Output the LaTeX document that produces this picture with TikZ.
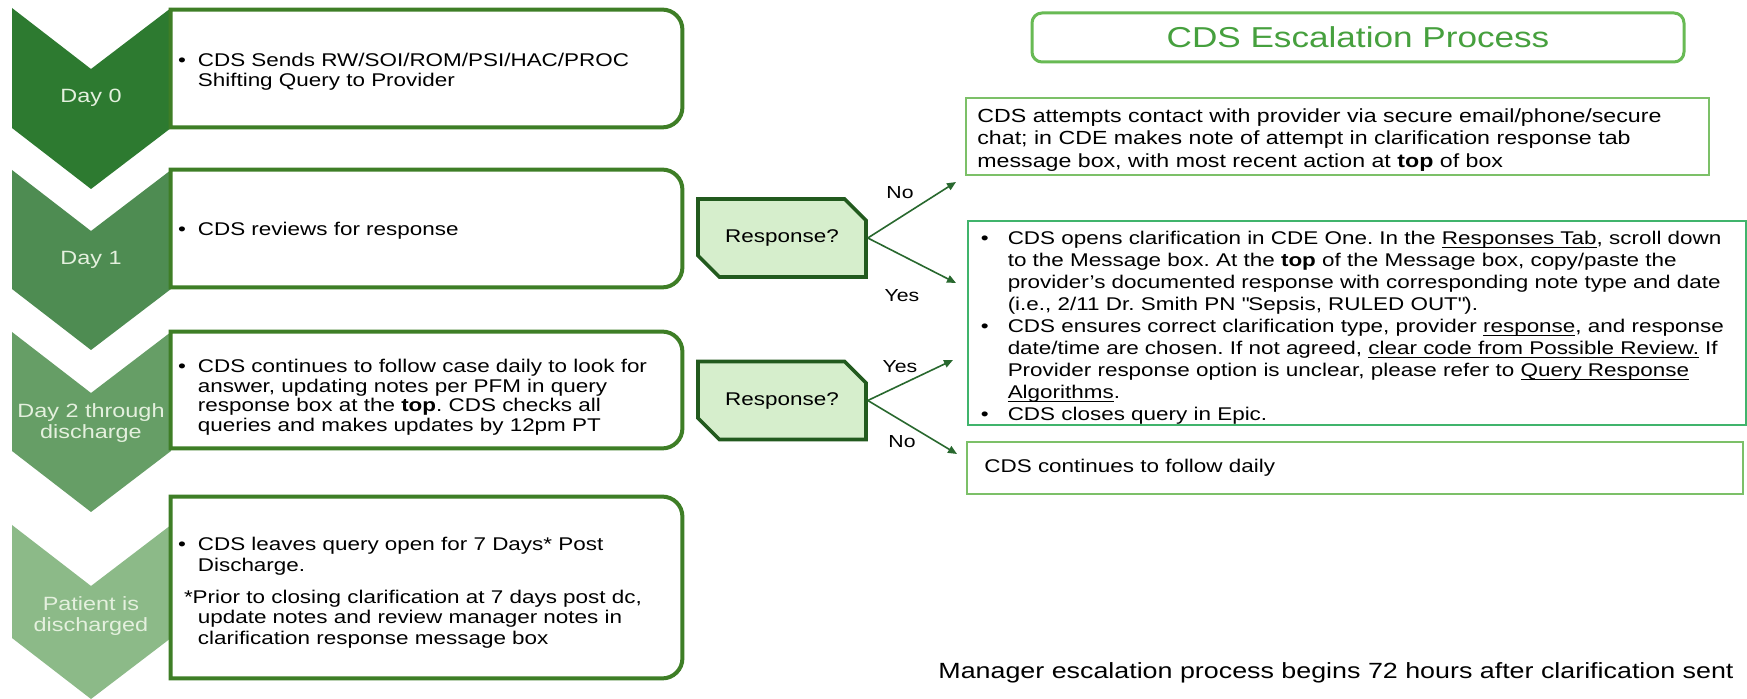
\documentclass[tikz,border=0pt]{standalone}
\usepackage{fontspec}
\setmainfont{Liberation Sans}[FakeStretch=1.22]
\usetikzlibrary{arrows.meta,shapes.misc,calc}
\definecolor{chevA}{RGB}{45,122,48}
\definecolor{chevB}{RGB}{78,140,82}
\definecolor{chevC}{RGB}{102,158,102}
\definecolor{chevD}{RGB}{140,186,136}
\definecolor{chevtext}{RGB}{228,240,222}
\definecolor{boxgreen}{RGB}{62,126,38}
\definecolor{titlegreen}{RGB}{70,160,62}
\definecolor{titleline}{RGB}{104,186,84}
\definecolor{lightline}{RGB}{124,192,104}
\definecolor{mintline}{RGB}{64,180,108}
\definecolor{decfill}{RGB}{214,238,204}
\definecolor{decline}{RGB}{34,90,30}
\definecolor{arrowgreen}{RGB}{40,104,46}
\newcommand{\myul}[1]{\setbox0\hbox{#1}\rlap{\rule[-1.6pt]{\wd0}{0.5pt}}\box0\relax}
\frenchspacing
\begin{document}
\begin{tikzpicture}[x=0.5pt,y=-0.5pt,
  chevlabel/.style={text=chevtext, font=\fontsize{9.6}{10.2}\selectfont, align=center, inner sep=0pt},
  frame/.style={inner sep=0pt, minimum width=255.5pt},
  lline/.style={draw=boxgreen, line width=2pt},
  ltext/.style={anchor=west, inner sep=0pt, font=\fontsize{9.2}{9.75}\selectfont\frenchspacing},
  rtext/.style={anchor=west, inner sep=0pt, font=\fontsize{9.2}{11}\selectfont\frenchspacing},
  rbox/.style={draw=lightline, line width=1pt, inner sep=0pt},
  decision/.style={chamfered rectangle, chamfered rectangle corners={north east,south west},
    chamfered rectangle xsep=8pt, chamfered rectangle ysep=6.5pt, fill=decfill, draw=decline,
    line width=1.8pt, minimum width=84pt, minimum height=39pt, inner sep=0pt,
    font=\fontsize{9.2}{10}\selectfont},
  flow/.style={draw=arrowgreen, line width=0.8pt, -{Triangle[length=4.5pt,width=3.8pt]}},
  anslabel/.style={font=\fontsize{8.7}{9}\selectfont, inner sep=0pt}
]
\useasboundingbox (0,0) rectangle (1747,699);
\fill[white] (0,0) rectangle (1747,699);

% chevrons
\fill[chevA] (12,8) -- (91,69) -- (171,8) -- (171,128) -- (91,189) -- (12,128) -- cycle;
\fill[chevB] (12,170) -- (91,231) -- (171,170) -- (171,289) -- (91,350) -- (12,289) -- cycle;
\fill[chevC] (12,332) -- (91,393) -- (171,332) -- (171,451) -- (91,512) -- (12,451) -- cycle;
\fill[chevD] (12,525) -- (91,586) -- (171,525) -- (171,638) -- (91,699) -- (12,638) -- cycle;
\node[chevlabel] (l0) at (91,98) {Day 0};
\node[chevlabel] (l1) at (91,260) {Day 1};
\node[chevlabel] (l2) at (91,423) {Day 2 through\\discharge};
\node[chevlabel] (l3) at (91,616) {Patient is\\discharged};

% left boxes
\node[frame, minimum height=58.5pt] (b0) at (426.5,68.5) {};
\node[frame, minimum height=58.5pt] (b1) at (426.5,228.5) {};
\node[frame, minimum height=58pt] (b2) at (426.5,390) {};
\node[frame, minimum height=90.5pt] (b3) at (426.5,587.5) {};
\foreach \b in {b0,b1,b2,b3}{
  \draw[lline] (\b.north west) -- ([xshift=-10pt]\b.north east) arc[start angle=90,end angle=0,radius=10pt]
    -- ([yshift=10pt]\b.south east) arc[start angle=0,end angle=-90,radius=10pt] -- (\b.south west) -- cycle;
}
\node[ltext] (t0) at ([xshift=3.5pt,yshift=-2pt]b0.west) {\begin{tabular}{@{}l@{\hspace{6pt}}l@{}}\textbullet & CDS Sends RW/SOI/ROM/PSI/HAC/PROC\\ & Shifting Query to Provider\end{tabular}};
\node[ltext] (t1) at ([xshift=3.5pt,yshift=-1.5pt]b1.west) {\begin{tabular}{@{}l@{\hspace{6pt}}l@{}}\textbullet & CDS reviews for response\end{tabular}};
\node[ltext] (t2) at ([xshift=3.5pt,yshift=-4pt]b2.west) {\begin{tabular}{@{}l@{\hspace{6pt}}l@{}}\textbullet & CDS continues to follow case daily to look for\\ & answer, updating notes per PFM in query\\ & response box at the \textbf{top}. CDS checks all\\ & queries and makes updates by 12pm PT\end{tabular}};
\node[ltext, font=\fontsize{9.2}{10.2}\selectfont\frenchspacing] (t3) at ([xshift=3.5pt,yshift=-3pt]b3.west) {\begin{tabular}{@{}l@{\hspace{6pt}}l@{}}\textbullet & CDS leaves query open for 7 Days* Post\\ & Discharge.\\[6pt]
\multicolumn{2}{@{}l@{}}{\hspace{3pt}*Prior to closing clarification at 7 days post dc,}\\ & update notes and review manager notes in\\ & clarification response message box\end{tabular}};

% right side
\node[draw=titleline, line width=1.5pt, rounded corners=5pt, minimum width=326pt, minimum height=24.5pt, inner sep=0pt,
  text=titlegreen, font=\fontsize{14.4}{15}\selectfont] (title) at (1358,37.5) {CDS Escalation Process};

\node[rbox, minimum width=371.5pt, minimum height=38.5pt] (r1) at (1337.5,136.5) {};
\node[rtext, font=\fontsize{9.5}{11.2}\selectfont\frenchspacing] (rt1) at ([xshift=6pt,yshift=-2pt]r1.west) {\begin{tabular}{@{}l@{}}CDS attempts contact with provider via secure email/phone/secure\\chat; in CDE makes note of attempt in clarification response tab\\message box, with most recent action at \textbf{top} of box\end{tabular}};

\node[rbox, draw=mintline, minimum width=389pt, minimum height=102pt] (r2) at (1356.5,323) {};
\node[rtext] (rt2) at ([xshift=7pt,yshift=-2.5pt]r2.west) {\begin{tabular}{@{}l@{\hspace{9.5pt}}l@{}}
\textbullet & CDS opens clarification in CDE One. In the \myul{Responses Tab}, scroll down\\
 & to the Message box. At the \textbf{top} of the Message box, copy/paste the\\
 & provider’s documented response with corresponding note type and date\\
 & (i.e., 2/11 Dr. Smith PN \textquotedbl Sepsis, RULED OUT\textquotedbl).\\
\textbullet & CDS ensures correct clarification type, provider \myul{response}, and response\\
 & date/time are chosen. If not agreed, \myul{clear code from Possible Review.} If\\
 & Provider response option is unclear, please refer to \myul{Query Response}\\
 & \myul{Algorithms}.\\
\textbullet & CDS closes query in Epic.\end{tabular}};

\node[rbox, minimum width=388pt, minimum height=26pt] (r3) at (1355,468) {};
\node[rtext] (rt3) at ([xshift=9pt]r3.west) {CDS continues to follow daily};

\node[anchor=west, inner sep=0pt, font=\fontsize{11}{12}\selectfont] (foot) at (938,673) {Manager escalation process begins 72 hours after clarification sent};

% decisions
\node[decision] (d1) at (782,238) {Response?};
\node[decision] (d2) at (782,400.5) {Response?};
\coordinate (d1no) at (956,182);
\coordinate (d1yes) at (956,283);
\coordinate (d2yes) at (953,360);
\coordinate (d2no) at (957,454);
\draw[flow] (d1.east) -- (d1no);
\draw[flow] (d1.east) -- (d1yes);
\draw[flow] (d2.east) -- (d2yes);
\draw[flow] (d2.east) -- (d2no);
\node[anslabel] (n1) at (900,193) {No};
\node[anslabel] (y1) at (902,296) {Yes};
\node[anslabel] (y2) at (900,367) {Yes};
\node[anslabel] (n2) at (902,442) {No};
\end{tikzpicture}
\end{document}
